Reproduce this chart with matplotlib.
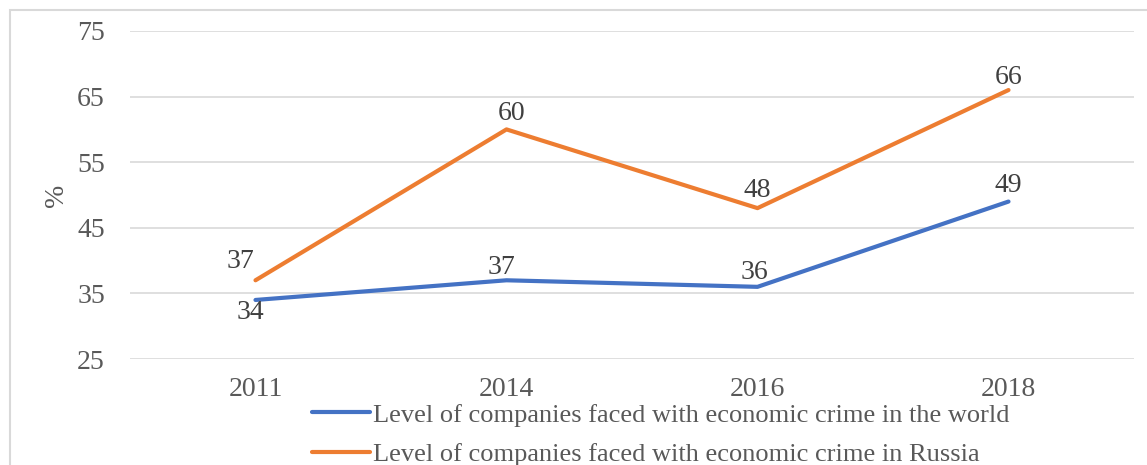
import matplotlib.pyplot as plt
from matplotlib.patches import Rectangle

# data
years = ['2011', '2014', '2016', '2018']
world = [34, 37, 36, 49]
russia = [37, 60, 48, 66]
labels = ['Level of companies faced with economic crime in the world',
          'Level of companies faced with economic crime in Russia']

# label offsets in pixels (dx, dy), dy upwards
world_off = [(-5, -13), (-5, 13), (-3, 14), (0, 16)]
russia_off = [(-15, 19), (5, 16), (0, 18), (0, 13)]

plt.rcParams['font.family'] = ['Liberation Serif', 'DejaVu Serif']
fs = 20

W, H = 1147, 465
fig = plt.figure(figsize=(W / 100, H / 100), dpi=100)
ax = fig.add_axes([130 / W, 106 / H, 1004 / W, 328 / H])

x = list(range(len(years)))
l1, = ax.plot(x, world, color='#4472C4', lw=3, solid_capstyle='round')
l2, = ax.plot(x, russia, color='#ED7D31', lw=3, solid_capstyle='round')

px = 72 / 100
for xs, off in ((world, world_off), (russia, russia_off)):
    for xi, v, (dx, dy) in zip(x, xs, off):
        ax.annotate(str(v), (xi, v), xytext=(dx * px, dy * px), textcoords='offset points',
                    ha='center', va='center', fontsize=fs, color='#404040')

ax.set_xlim(-0.5, 3.5)
ax.set_ylim(25, 75)
ax.set_yticks(range(25, 76, 10))
ax.set_xticks(x)
ax.set_xticklabels(years)
ax.tick_params(length=0, labelsize=fs, labelcolor='#595959')
ax.tick_params(axis='x', pad=13)
ax.tick_params(axis='y', pad=18)
ax.grid(axis='y', color='#D9D9D9', lw=1.2)
ax.set_axisbelow(True)
for s in ax.spines.values():
    s.set_visible(False)
ax.set_ylabel('%', fontsize=fs, color='#595959', labelpad=6)

fig.legend([l1, l2], labels, loc='upper left', bbox_to_anchor=(299 / W, 1 - 390 / H),
           frameon=False, fontsize=19, handlelength=2.2, handletextpad=0.1,
           labelspacing=0.6, borderpad=0, labelcolor='#595959')

fig.patches.append(Rectangle((10 / W, -0.1), 1.2, 1 - 10 / H + 0.1, transform=fig.transFigure,
                             fill=False, edgecolor='#D9D9D9', lw=1.5))

fig.savefig('out.png', dpi=100)
